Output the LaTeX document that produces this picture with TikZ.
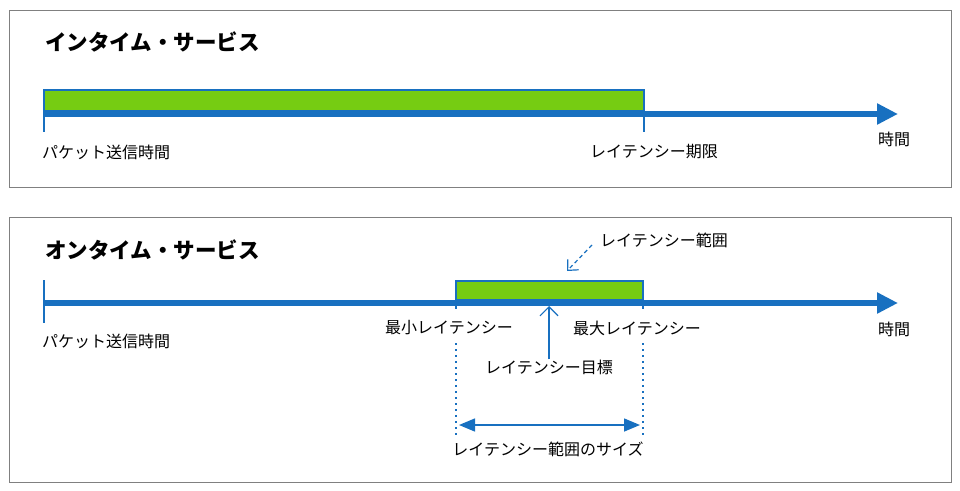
\documentclass[tikz,border=0pt]{standalone}
\usepackage{fontspec}
\setmainfont{Noto Sans CJK JP}
\usepackage{xcolor}
\usepackage{tikz}
\usetikzlibrary{arrows.meta}
\definecolor{axisblue}{RGB}{24,112,192}
\definecolor{bargreen}{RGB}{118,204,18}
\definecolor{framegray}{RGB}{128,128,128}

\begin{document}
\begin{tikzpicture}[x=1pt,y=-1pt,
  title/.style={font=\fontsize{21.5}{25}\selectfont\bfseries, anchor=west, inner sep=0pt},
  lbl/.style={font=\fontsize{16}{19}\selectfont, anchor=west, inner sep=0pt},
  timeaxis/.style={draw=axisblue, line width=5.5pt, -{Triangle[length=21pt,width=20pt]}},
  tickline/.style={draw=axisblue, line width=1.5pt},
  greenbar/.style={fill=bargreen, draw=axisblue, line width=1.5pt}]
  \useasboundingbox[fill=white] (0,0) rectangle (960,490);
  % in-time service
  \draw[framegray, line width=1pt] (9,10) rectangle (951,187);
  \node[title] (intitle) at (45,42) {インタイム・サービス};
  \draw[greenbar] (44,90) rectangle (644,111);
  \coordinate (inbegin) at (44,114);
  \coordinate (inend) at (898,114);
  \coordinate (intop) at (44,89);
  \coordinate (inbottom) at (44,132);
  \coordinate (deadtop) at (644,89);
  \coordinate (deadbottom) at (644,132);
  \draw[timeaxis] (inbegin) -- (inend);
  \draw[tickline] (intop) -- (inbottom);
  \draw[tickline] (deadtop) -- (deadbottom);
  \node[lbl] (insend) at (42,152) {パケット送信時間};
  \node[lbl] (deadline) at (590,152) {レイテンシー期限};
  \node[lbl] (intime) at (878,139) {時間};
  % on-time service
  \draw[framegray, line width=1pt] (9,217) rectangle (951,482);
  \node[title] (ontitle) at (45,250) {オンタイム・サービス};
  \draw[greenbar] (456,281) rectangle (643,300);
  \coordinate (onbegin) at (44,303);
  \coordinate (onend) at (898,303);
  \coordinate (ontop) at (44,280);
  \coordinate (onbottom) at (44,323);
  \coordinate (mintop) at (456,281);
  \coordinate (minbottom) at (456,309);
  \coordinate (maxtop) at (643,281);
  \coordinate (maxbottom) at (643,309);
  \draw[timeaxis] (onbegin) -- (onend);
  \draw[tickline] (ontop) -- (onbottom);
  \draw[tickline] (mintop) -- (minbottom);
  \draw[tickline] (maxtop) -- (maxbottom);
  \node[lbl] (onsend) at (42,341) {パケット送信時間};
  \node[lbl] (minlat) at (385,328) {最小レイテンシー};
  \node[lbl] (maxlat) at (573,328) {最大レイテンシー};
  \node[lbl] (ontime) at (878,329) {時間};
  \node[lbl, anchor=center] (target) at (549,367) {レイテンシー目標};
  \coordinate (targettip) at (549,306);
  \draw[axisblue, line width=1.2pt, -{Straight Barb[length=9pt,width=18pt]}] (target.north) -- (targettip);
  \node[lbl] (range) at (600,240) {レイテンシー範囲};
  \coordinate (rangefrom) at (592,245);
  \coordinate (rangeto) at (567,271);
  \draw[axisblue, line width=1.2pt, dash pattern=on 4pt off 3pt, -{Straight Barb[length=8pt,width=15pt]}] (rangefrom) -- (rangeto);
  \coordinate (mindot) at (456,343);
  \coordinate (minend) at (456,437);
  \coordinate (maxdot) at (643,343);
  \coordinate (maxend) at (643,437);
  \draw[axisblue, line width=1.5pt, dash pattern=on 1.5pt off 4.5pt] (mindot) -- (minend);
  \draw[axisblue, line width=1.5pt, dash pattern=on 1.5pt off 4.5pt] (maxdot) -- (maxend);
  \coordinate (sizeleft) at (459,425);
  \coordinate (sizeright) at (640,425);
  \draw[axisblue, line width=1.5pt, {Triangle[length=16pt,width=13pt]}-{Triangle[length=16pt,width=13pt]}] (sizeleft) -- (sizeright);
  \node[lbl, anchor=center] (rangesize) at (548,449) {レイテンシー範囲のサイズ};
\end{tikzpicture}
\end{document}
